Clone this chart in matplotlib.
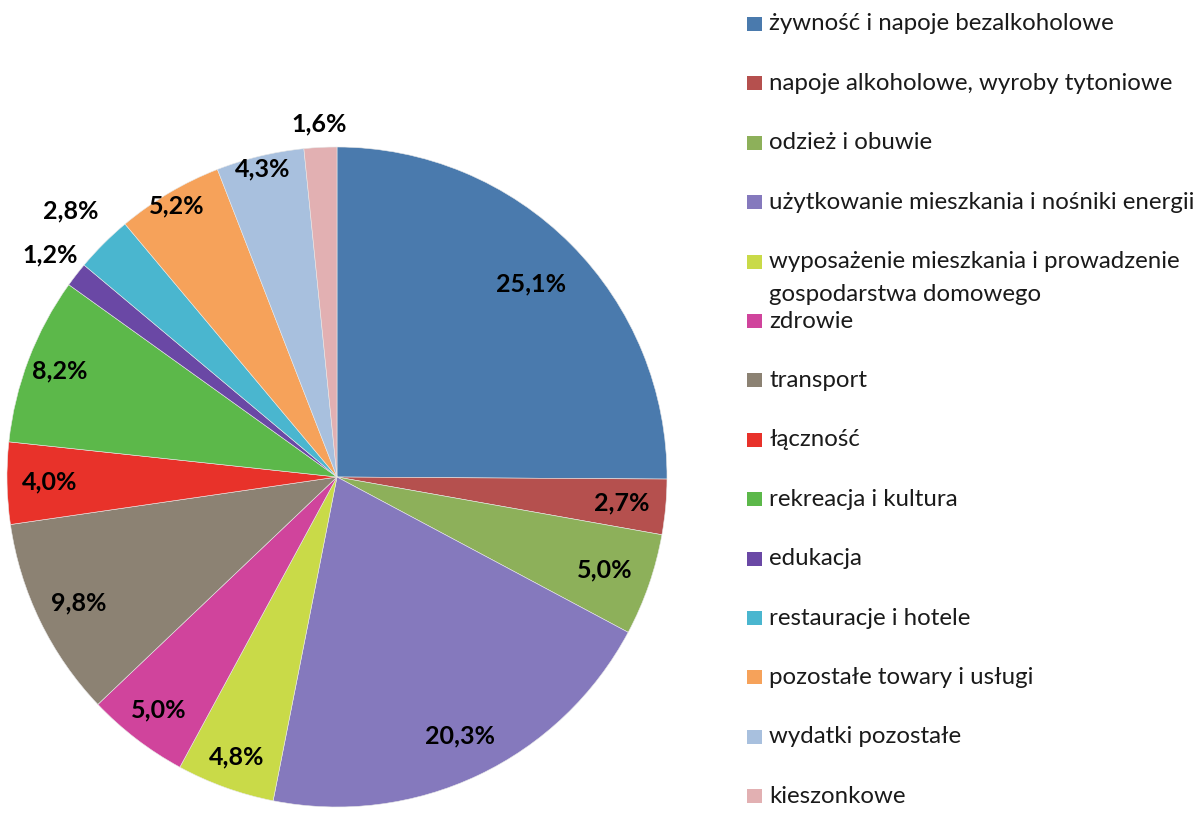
"""pie of household spending structure with a hand-drawn legend"""
import numpy as np
import matplotlib.pyplot as plt
from matplotlib.patches import Rectangle

categories = [
    "żywność i napoje bezalkoholowe",
    "napoje alkoholowe, wyroby tytoniowe",
    "odzież i obuwie",
    "użytkowanie mieszkania i nośniki energii",
    "wyposażenie mieszkania i prowadzenie\ngospodarstwa domowego",
    "zdrowie",
    "transport",
    "łączność",
    "rekreacja i kultura",
    "edukacja",
    "restauracje i hotele",
    "pozostałe towary i usługi",
    "wydatki pozostałe",
    "kieszonkowe",
]
shares = [25.1, 2.7, 5.0, 20.3, 4.8, 5.0, 9.8, 4.0, 8.2, 1.2, 2.8, 5.2, 4.3, 1.6]

colors = ["#4a7aad", "#b5504e", "#8db05a", "#8579bd", "#c9da48", "#d0449c",
          "#8c8273", "#e8322a", "#5cb84a", "#6a48a5", "#4ab6cf", "#f6a25a",
          "#a8c0de", "#e2b0b2"]
# distance of each percent label from the centre, in radii
label_r = [0.83, 0.865, 0.86, 0.87, 0.9, 0.89, 0.87, 0.87, 0.9, 1.1,
           1.14, 0.955, 0.96, 1.07]

plt.rcParams['font.family'] = ['Lato', 'DejaVu Sans']

W, H = 1198, 813
fig = plt.figure(figsize=(W / 100, H / 100), dpi=100)

# pie: centre (337, 477) px, radius 330 px
cx, cy, r = 337, 477, 330
ax = fig.add_axes([(cx - r) / W, (H - cy - r) / H, 2 * r / W, 2 * r / H])
wedges, _ = ax.pie(shares, colors=colors, startangle=90, counterclock=False,
                   radius=1, wedgeprops=dict(edgecolor="#e8e8e8", linewidth=0.4))
ax.set_xlim(-1, 1)
ax.set_ylim(-1, 1)
ax.set_aspect('equal')
ax.axis('off')

for w, v, d in zip(wedges, shares, label_r):
    ang = np.deg2rad((w.theta1 + w.theta2) / 2)
    ax.text(d * np.cos(ang), d * np.sin(ang), f"{v:.1f}%".replace(".", ","),
            ha='center', va='center', fontsize=18, fontweight='bold',
            color="black", clip_on=False)

# legend drawn by hand (last entry kept just inside the bottom edge)
for i, (lab, c) in enumerate(zip(categories, colors)):
    y = 24 + 59.4 * i
    fig.patches.append(Rectangle((747 / W, 1 - (y + 7) / H), 15 / W, 14 / H,
                                 facecolor=c, edgecolor='none',
                                 transform=fig.transFigure))
    for j, line in enumerate(lab.split("\n")):
        fig.text(769 / W, 1 - (y + 33 * j) / H, line, ha='left', va='center',
                 fontsize=17.3, color="#1a1a1a")

fig.savefig("out.png", dpi=100, facecolor="white")
